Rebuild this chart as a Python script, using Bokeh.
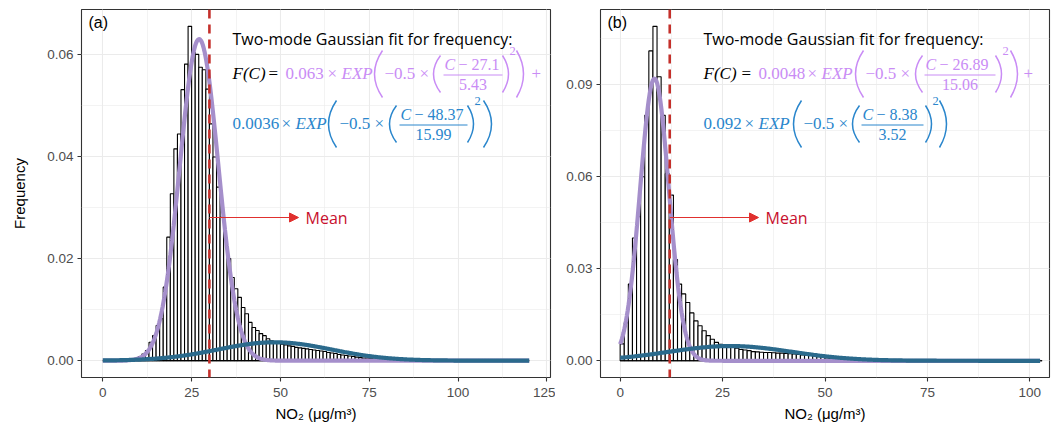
import numpy as np
from bokeh.plotting import figure
from bokeh.models import (Range1d, SingleIntervalTicker, PrintfTickFormatter, Span,
                          Arrow, NormalHead, Label, ColumnDataSource)
from bokeh.layouts import row
from bokeh.embed import file_html
from bokeh.resources import INLINE

# ---------------- data ----------------
bin_width = 1.0
# panel (a): histogram frequencies, bins of width 1 starting at 0
a_freq = [0, 0, 0, 0, 0, 0.0001, 0.0001, 0.0002, 0.0003, 0.0005,
          0.0008, 0.0013, 0.0020, 0.0036, 0.0049, 0.0069, 0.0082, 0.0144, 0.0242, 0.0327,
          0.0415, 0.0444, 0.0531, 0.0581, 0.0655, 0.0604, 0.0600, 0.0575, 0.0570, 0.0532,
          0.0464, 0.0399, 0.0340, 0.0281, 0.0240, 0.0200, 0.0163, 0.0141, 0.0124, 0.0104,
          0.0092, 0.0075, 0.0065, 0.0059, 0.0053, 0.0049, 0.0043, 0.0039, 0.0036, 0.0034,
          0.0032, 0.0031, 0.0029, 0.0028, 0.0026, 0.0025, 0.0024, 0.0023, 0.0022, 0.0021,
          0.0020, 0.0019, 0.0018, 0.0016, 0.0015, 0.0014, 0.0012, 0.0011, 0.0010, 0.0009,
          0.0008, 0.0007, 0.0006, 0.0005, 0.0005, 0.0004, 0.0003, 0.0003, 0.0002, 0.0002,
          0.0002, 0.0001, 0.0001, 0.0001, 0.0001, 0.0001] + [0] * 34
# panel (b)
b_freq = [0.0055, 0.0124, 0.0250, 0.0400, 0.0470, 0.0600, 0.0800, 0.1010, 0.1090, 0.0926,
          0.0800, 0.0610, 0.0540, 0.0330, 0.0250, 0.0218, 0.0190, 0.0156, 0.0130, 0.0114,
          0.0098, 0.0082, 0.0070, 0.0060, 0.0054, 0.0050, 0.0047, 0.0044, 0.0041, 0.0037,
          0.0035, 0.0033, 0.0030, 0.0029, 0.0028, 0.0027, 0.0027, 0.0026, 0.0025, 0.0025,
          0.0024, 0.0023, 0.0022, 0.0021, 0.0019, 0.0018, 0.0017, 0.0015, 0.0013, 0.0011,
          0.0009, 0.0007, 0.0006, 0.0005, 0.0004, 0.0003, 0.0003, 0.0002, 0.0002, 0.0001,
          0.0001] + [0] * 42

# Gaussian fit parameters (amplitude, centre, sd) as printed on the chart
a_fit_narrow = [0.063, 27.1, 5.43]
a_fit_wide = [0.0036, 48.37, 15.99]
b_fit_narrow = [0.092, 8.38, 3.52]
b_fit_wide = [0.0048, 26.89, 15.06]
a_mean = 30.0
b_mean = 12.1
a_xmax = 120.0
b_xmax = 102.5

x_ticks_a = [0, 25, 50, 75, 100, 125]
x_ticks_b = [0, 25, 50, 75, 100]
y_tick_step_a = 0.02
y_tick_step_b = 0.03
panel_tags = ["(a)", "(b)"]

# ---------------- style ----------------
PURPLE_CURVE = "#A58FCB"
BLUE_CURVE = "#2B6A8C"
PURPLE_TEXT = "#C98CF5"
BLUE_TEXT = "#2A86CC"
RED = "#C4302B"
ARROW_RED = "#E0302E"
GRID = "#EBEBEB"
BORDER = "#333333"
SERIF = "Liberation Serif"
SANS_AX = "Liberation Sans"
SANS_TXT = "Open Sans"
H = 427
FT, FH = 9, 368


def gauss(params, x):
    a, mu, s = params
    return a * np.exp(-0.5 * ((x - mu) / s) ** 2)


def make_panel(freq, fit_narrow, fit_wide, mean, xmax, xr, yr, ystep, xticks,
               width, page_x0, border_left, border_right, ylabel, tag,
               fpieces, text_x0, arrow_y_px, arrow_end_px):
    p = figure(width=width, height=H, x_range=Range1d(*xr), y_range=Range1d(*yr),
               output_backend="svg", toolbar_location=None,
               min_border_left=border_left, min_border_right=border_right,
               min_border_top=FT, min_border_bottom=H - FT - FH)
    FL = page_x0 + border_left
    FW = width - border_left - border_right

    def X(px):
        return xr[0] + (px - FL) / FW * (xr[1] - xr[0])

    def Y(py):
        return yr[1] - (py - FT) / FH * (yr[1] - yr[0])

    p.background_fill_color = "white"
    p.border_fill_color = "white"
    p.outline_line_color = BORDER
    p.outline_line_width = 1.1

    p.xaxis.ticker = SingleIntervalTicker(interval=25, num_minor_ticks=2)
    p.yaxis.ticker = SingleIntervalTicker(interval=ystep, num_minor_ticks=2)
    p.yaxis.formatter = PrintfTickFormatter(format="%.2f")
    for ax in (p.xaxis[0], p.yaxis[0]):
        ax.axis_line_color = None
        ax.major_tick_out = 4
        ax.major_tick_in = 0
        ax.minor_tick_out = 0
        ax.minor_tick_in = 0
        ax.major_tick_line_color = BORDER
        ax.major_tick_line_width = 1.1
        ax.major_label_text_color = "#4D4D4D"
        ax.major_label_text_font = SANS_AX
        ax.major_label_text_font_size = "13.5px"
        ax.axis_label_text_font = SANS_AX
        ax.axis_label_text_font_style = "normal"
        ax.axis_label_text_font_size = "15px"
        ax.axis_label_text_color = "black"
    p.xaxis.major_label_standoff = 6
    p.yaxis.major_label_standoff = 4
    p.xaxis.axis_label = "NO\u2082 (\u03bcg/m\u00b3)"
    p.xaxis.axis_label_standoff = 5
    if ylabel:
        p.yaxis.axis_label = ylabel
        p.yaxis.axis_label_standoff = 16
    for g in (p.xgrid[0], p.ygrid[0]):
        g.grid_line_color = GRID
        g.grid_line_width = 1.1
        g.minor_grid_line_color = GRID
        g.minor_grid_line_width = 0.6

    # histogram
    n = len(freq)
    left = np.arange(n) * bin_width
    src = ColumnDataSource(dict(left=left, right=left + bin_width, top=freq,
                                bottom=[0] * n))
    p.quad(left="left", right="right", top="top", bottom="bottom", source=src,
           fill_color="white", line_color="black", line_width=1.1)
    p.line([left[0], left[-1] + bin_width], [0, 0], line_color="black", line_width=1.1)

    # mean line
    p.add_layout(Span(location=mean, dimension="height", line_color=RED,
                      line_width=2.6, line_dash="9 6"))

    # fits
    xs = np.linspace(0, xmax, 500)
    p.line(xs, gauss(fit_narrow, xs), line_color=PURPLE_CURVE, line_width=4.2)
    p.line(xs, gauss(fit_wide, xs), line_color=BLUE_CURVE, line_width=4.2)

    # arrow + Mean
    p.add_layout(Arrow(end=NormalHead(size=9, fill_color=ARROW_RED, line_color=ARROW_RED),
                       x_start=mean, y_start=Y(arrow_y_px), x_end=X(arrow_end_px),
                       y_end=Y(arrow_y_px), line_color=ARROW_RED, line_width=1))
    p.add_layout(Label(x=X(arrow_end_px + 7), y=Y(arrow_y_px), text="Mean",
                       text_color="#C8102E", text_font=SANS_TXT, text_font_size="16px",
                       text_baseline="middle", text_align="left"))

    # panel tag
    p.add_layout(Label(x=X(FL + 7), y=Y(22), text=tag, text_color="black",
                       text_font=SANS_AX, text_font_size="16px",
                       text_baseline="middle", text_align="left"))

    # title of formula
    p.add_layout(Label(x=X(text_x0), y=Y(38), text="Two-mode Gaussian fit for frequency:",
                       text_color="black", text_font=SANS_TXT, text_font_size="16px",
                       text_baseline="middle", text_align="left"))
    colors = {"k": "black", "p": PURPLE_TEXT, "b": BLUE_TEXT}
    for piece in fpieces:
        kind = piece[0]
        if kind == "t":
            _, px, py, txt, col, size, style, align = piece
            p.add_layout(Label(x=X(px), y=Y(py), text=txt, text_color=colors[col],
                               text_font=SERIF, text_font_size=f"{size}px",
                               text_font_style=style, text_baseline="middle",
                               text_align=align))
        elif kind == "f":  # fraction bar
            _, x0, x1, py, col = piece
            p.line([X(x0), X(x1)], [Y(py), Y(py)], line_color=colors[col], line_width=1)
        else:  # parenthesis drawn as a thin curve: tip x, bulge x, centre y, half height
            _, xt, xb, yc, hh, col = piece
            p.quadratic(x0=X(xt), y0=Y(yc - hh), x1=X(xt), y1=Y(yc + hh),
                        cx=X(2 * xb - xt), cy=Y(yc), line_color=colors[col],
                        line_width=1.5)
    return p


def formula_pieces(x0, l1, l2):
    y1, y2 = 73, 123
    P = []
    for (yc, d) in ((y1, l1), (y2, l2)):
        col = d["col"]
        if d.get("F"):
            P.append(("t", x0, yc, "F(C)", "k", 17, "italic", "left"))
            P.append(("t", d["eq"], yc, "=", "k", 17, "normal", "left"))
        P.append(("t", d["amp"], yc, d["amp_t"], col, 17, "normal", "left"))
        P.append(("t", d["x1"], yc, "\u00d7", col, 17, "normal", "left"))
        P.append(("t", d["exp"], yc, "EXP", col, 17, "italic", "left"))
        P.append(("p", d["p1"][1], d["p1"][0], yc + 0.5, 23.5, col))
        P.append(("t", d["m"], yc, "\u22120.5", col, 17, "normal", "left"))
        P.append(("t", d["x2"], yc, "\u00d7", col, 17, "normal", "left"))
        P.append(("p", d["p2"][1], d["p2"][0], yc + 0.5, 18.5, col))
        P.append(("t", d["f0"] + 1, yc - 9, "C", col, 16, "italic", "left"))
        P.append(("t", d["f0"] + 15, yc - 9, d["num"], col, 16, "normal", "left"))
        P.append(("f", d["f0"], d["f1"], yc + 1.5, col))
        P.append(("t", (d["f0"] + d["f1"]) / 2, yc + 11, d["den"], col, 16, "normal",
                  "center"))
        P.append(("p", d["q2"][0], d["q2"][1], yc + 0.5, 18.5, col))
        P.append(("t", d["sq"], yc - 23, "2", col, 12.5, "normal", "left"))
        P.append(("p", d["q1"][0], d["q1"][1], yc + 0.5, 23.5, col))
        if d.get("plus"):
            P.append(("t", d["plus"], yc, "+", col, 17, "normal", "left"))
    return P


# horizontal layout (page pixels) of the printed formulas; parens given as (bulge, tip)
a_pieces = formula_pieces(
    232,
    dict(col="p", F=True, eq=268, amp=285, amp_t="0.063", x1=327, exp=341,
         p1=(374, 382), m=384, x2=419, p2=(433, 440), f0=443, f1=502,
         num="\u2212 27.1", den="5.43", q2=(502, 508), sq=509, q1=(516, 523), plus=531),
    dict(col="b", amp=232, amp_t="0.0036", x1=281, exp=295, p1=(328, 336), m=339,
         x2=374, p2=(389, 396), f0=399, f1=467, num="\u2212 48.37", den="15.99",
         q2=(467, 473), sq=474, q1=(483, 491)))
b_pieces = formula_pieces(
    703,
    dict(col="p", F=True, eq=741, amp=758, amp_t="0.0048", x1=807, exp=821,
         p1=(855, 863), m=865, x2=900, p2=(915, 922), f0=924, f1=995,
         num="\u2212 26.89", den="15.06", q2=(995, 1001), sq=1002, q1=(1010, 1017),
         plus=1023),
    dict(col="b", amp=703, amp_t="0.092", x1=744, exp=758, p1=(793, 801), m=803,
         x2=838, p2=(852, 859), f0=861, f1=923, num="\u2212 8.38", den="3.52",
         q2=(925, 931), sq=932, q1=(939, 946)))

pa = make_panel(a_freq, a_fit_narrow, a_fit_wide, a_mean, a_xmax,
                (-6.0, 126.0), (-0.0033, 0.0688), y_tick_step_a, x_ticks_a,
                555, 0, 81, 5, "Frequency", panel_tags[0], a_pieces, 232, 217, 298)
pb = make_panel(b_freq, b_fit_narrow, b_fit_wide, b_mean, b_xmax,
                (-4.8, 104.8), (-0.00545, 0.1145), y_tick_step_b, x_ticks_b,
                506, 555, 45, 12, None, panel_tags[1], b_pieces, 703, 217, 758)

layout = row(pa, pb)
open("out.html", "w").write(file_html(layout, INLINE))
